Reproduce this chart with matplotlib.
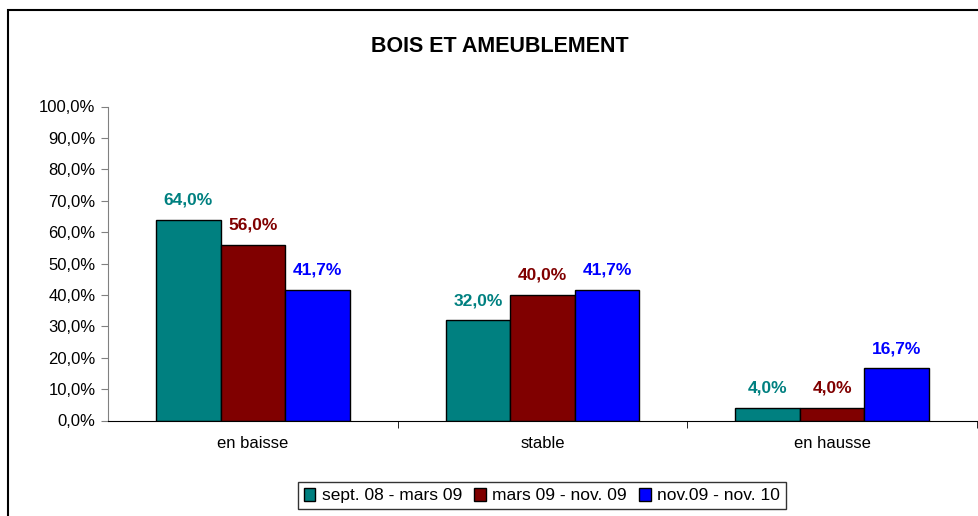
import matplotlib
matplotlib.use("Agg")
import matplotlib.pyplot as plt
from matplotlib.patches import Rectangle
import numpy as np

categories = ["en baisse", "stable", "en hausse"]
series_names = ["sept. 08 - mars 09", "mars 09 - nov. 09", "nov.09 - nov. 10"]
values_s1 = [0.640, 0.320, 0.040]
values_s2 = [0.560, 0.400, 0.040]
values_s3 = [0.417, 0.417, 0.167]
colors = ["#008080", "#800000", "#0000FF"]
label_colors = ["#008080", "#800000", "#0000FF"]
yticks = [i / 10 for i in range(11)]
ytick_labels = ["0,0%", "10,0%", "20,0%", "30,0%", "40,0%", "50,0%",
                "60,0%", "70,0%", "80,0%", "90,0%", "100,0%"]
title = "BOIS ET AMEUBLEMENT"

plt.rcParams['font.family'] = ['Liberation Sans', 'DejaVu Sans']

fig = plt.figure(figsize=(9.79, 5.16), dpi=100)
W, H = 979, 516
# outer chart border (only top and left visible)
fig.add_artist(Rectangle((8 / W, -0.05), 1.2, 1 - 10 / H + 0.05, transform=fig.transFigure,
                         fill=False, edgecolor="black", linewidth=1.5))

ax = fig.add_axes([108 / W, 1 - 420.5 / H, (977 - 108) / W, (420.5 - 106.5) / H])
x = np.arange(len(categories))
bw = 0.223
all_vals = [values_s1, values_s2, values_s3]
for i, (vals, col, lcol, name) in enumerate(zip(all_vals, colors, label_colors, series_names)):
    pos = x + (i - 1) * bw
    ax.bar(pos, vals, width=bw, color=col, edgecolor="black", linewidth=1.0, label=name, zorder=2)
    for p, v in zip(pos, vals):
        ax.annotate(("%.1f%%" % (v * 100)).replace(".", ","), (p, v), xytext=(0, 14),
                    textcoords="offset points", ha="center", va="center",
                    color=lcol, fontsize=12.5, fontweight="bold")

ax.set_xlim(-0.5, 2.5)
ax.set_ylim(0, 1.0)
ax.set_yticks(yticks)
ax.set_yticklabels(ytick_labels, fontsize=12)
ax.set_xticks(x)
ax.set_xticklabels(categories, fontsize=12)
ax.tick_params(axis="x", length=0, pad=11)
ax.set_xticks([0.5, 1.5, 2.5], minor=True)
ax.tick_params(axis="x", which="minor", length=5, direction="out")
ax.tick_params(axis="y", length=5, direction="out", color="#808080", pad=4)
for s in ["top", "right"]:
    ax.spines[s].set_visible(False)
ax.spines["left"].set_color("#808080")
ax.spines["bottom"].set_color("black")

fig.text(500 / W, 1 - 47 / H, title, ha="center", va="center", fontsize=15.5, fontweight="bold")

leg = fig.legend(loc="center", bbox_to_anchor=(542 / W, 1 - 495.5 / H), ncol=3, fontsize=12.5,
                 frameon=True, fancybox=False, edgecolor="black", handlelength=0.65,
                 handleheight=0.85, handletextpad=0.4, columnspacing=0.7, borderpad=0.3,
                 borderaxespad=0)
leg.get_frame().set_linewidth(1.0)

fig.savefig("out.png", dpi=100)
